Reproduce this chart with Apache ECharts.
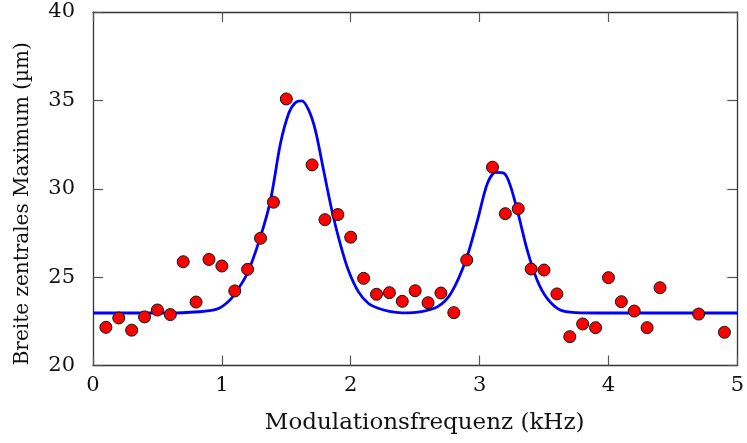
<!DOCTYPE html>
<html>
<head>
<meta charset="utf-8">
<script src="https://cdn.jsdelivr.net/npm/echarts@6/dist/echarts.min.js"></script>
<style>html,body{margin:0;padding:0;background:#fff}#c{width:747px;height:443px}</style>
</head>
<body>
<div id="c"></div>
<script>
// Measured points
const freqs = [0.1,0.2,0.3,0.4,0.5,0.6,0.7,0.8,0.9,1.0,1.1,1.2,1.3,1.4,1.5,1.7,1.8,1.9,2.0,2.1,2.2,2.3,2.4,2.5,2.6,2.7,2.8,2.9,3.1,3.2,3.3,3.4,3.5,3.6,3.7,3.8,3.9,4.0,4.1,4.2,4.3,4.4,4.7,4.9];
const widths = [22.16,22.69,22.0,22.75,23.14,22.88,25.87,23.59,26.0,25.63,24.22,25.44,27.2,29.24,35.08,31.35,28.25,28.54,27.26,24.93,24.03,24.12,23.63,24.23,23.55,24.1,22.99,25.97,31.22,28.59,28.87,25.46,25.4,24.05,21.63,22.35,22.14,24.97,23.61,23.08,22.14,24.4,22.91,21.88];
// Fit curve samples
const fitX = [0,0.6,0.825,0.92,0.979,1.04,1.095,1.198,1.3,1.378,1.455,1.519,1.57,1.621,1.673,1.725,1.789,1.853,1.917,1.981,2.059,2.136,2.213,2.3,2.4,2.55,2.675,2.778,2.894,2.984,3.061,3.125,3.19,3.241,3.305,3.369,3.446,3.524,3.626,3.755,3.9,5.0];
const fitY = [22.97,22.97,23.04,23.12,23.24,23.55,23.99,25.22,27.29,29.37,32.57,34.27,34.87,34.97,34.46,33.33,31.06,28.8,26.92,25.4,24.18,23.52,23.24,23.06,22.98,23.05,23.33,24.09,25.97,28.23,30.31,30.93,30.88,30.12,28.42,26.54,24.84,23.8,23.14,22.99,22.97,22.97];
const xTicks = [0,1,2,3,4,5];
const yTicks = [20,25,30,35,40];

const font = 'DejaVu Serif';
const fs = 21;
const axisColor = '#333';
function ax(pos, show, extra){
  return Object.assign({
    type:'value', position:pos,
    axisLine:{show:true,onZero:false,lineStyle:{color:axisColor,width:1.3}},
    axisTick:{show:true,inside:true,length:10,lineStyle:{color:'#555',width:1.2}},
    splitLine:{show:false},
    axisLabel:{show:show,color:'#111',fontFamily:font,fontSize:fs},
  }, extra);
}
const chart = echarts.init(document.getElementById('c'));
chart.setOption({
  animation:false,
  grid:{left:93,top:12,right:5.5,bottom:77.5},
  xAxis:[
    ax('bottom',true,{min:xTicks[0],max:xTicks[xTicks.length-1],interval:1,name:'Modulationsfrequenz (kHz)',nameLocation:'middle',nameGap:46,nameTextStyle:{fontFamily:font,fontSize:23,color:'#111',padding:[0,0,0,19]},axisLabel:{show:true,color:'#111',fontFamily:font,fontSize:fs,margin:10}}),
    ax('top',false,{min:xTicks[0],max:xTicks[xTicks.length-1],interval:1})
  ],
  yAxis:[
    ax('left',true,{min:yTicks[0],max:yTicks[yTicks.length-1],interval:5,name:'Breite zentrales Maximum (µm)',nameLocation:'middle',nameGap:60,nameTextStyle:{fontFamily:font,fontSize:20,color:'#111',padding:[0,30,0,0]},axisLabel:{show:true,color:'#111',fontFamily:font,fontSize:fs,margin:18}}),
    ax('right',false,{min:yTicks[0],max:yTicks[yTicks.length-1],interval:5})
  ],
  series:[
    {type:'line',data:fitX.map((x,i)=>[x,fitY[i]]),smooth:0.3,showSymbol:false,lineStyle:{color:'#0000ff',width:2.8},z:2},
    {type:'scatter',data:freqs.map((x,i)=>[x,widths[i]]),symbol:'circle',symbolSize:12,itemStyle:{color:'#ff0000',opacity:1,borderColor:'#111',borderWidth:1},z:3}
  ]
});
</script>
</body>
</html>
